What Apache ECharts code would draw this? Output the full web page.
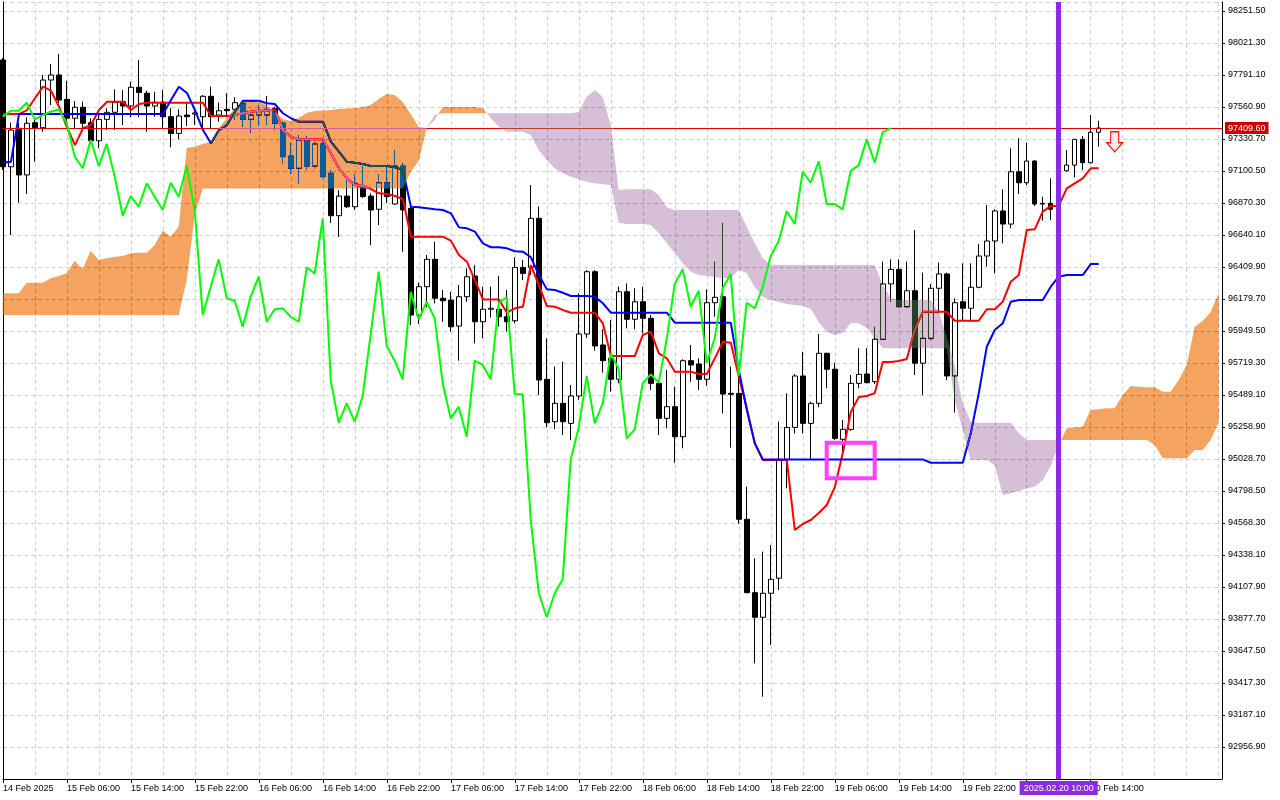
<!DOCTYPE html>
<html>
<head>
<meta charset="utf-8">
<script src="https://cdn.jsdelivr.net/npm/echarts@6.0.0/dist/echarts.min.js"></script>
<style>
html,body{margin:0;padding:0;background:#ffffff;}
#wrap{position:relative;width:1280px;height:800px;overflow:hidden;}
.layer{position:absolute;left:0;top:0;width:1280px;height:800px;}
#cloudLayer{mix-blend-mode:difference;pointer-events:none;}
#topLayer{pointer-events:none;}
</style>
</head>
<body>
<div id="wrap"><div id="mainLayer" class="layer"></div><div id="cloudLayer" class="layer"></div><div id="topLayer" class="layer"></div></div>
<script>
// ---------- DATA (hourly bars, bar 0 = 14 Feb 22:00) ----------
const xTickBars = [0, 8, 16, 24, 32, 40, 48, 56, 64, 72, 80, 88, 96, 104, 112, 120, 128, 136];
const xTickLabels = ['14 Feb 2025', '15 Feb 06:00', '15 Feb 14:00', '15 Feb 22:00', '16 Feb 06:00', '16 Feb 14:00',
  '16 Feb 22:00', '17 Feb 06:00', '17 Feb 14:00', '17 Feb 22:00', '18 Feb 06:00', '18 Feb 14:00',
  '18 Feb 22:00', '19 Feb 06:00', '19 Feb 14:00', '19 Feb 22:00', '20 Feb 06:00', '20 Feb 14:00'];

const candleOpen = [
  97899, 97131, 97408, 97072, 97448, 97412, 97755, 97791, 97616, 97480,
  97559, 97448, 97318, 97472, 97523, 97599, 97568, 97703, 97660, 97568,
  97595, 97491, 97371, 97503, 97510, 97491, 97638, 97503, 97544, 97544,
  97588, 97472, 97503, 97503, 97552, 97444, 97208, 97120, 97318, 97136,
  97295, 97084, 96779, 96920, 96843, 96992, 96920, 96825, 97016, 96863,
  97136, 96832, 96064, 96268, 96465, 96185, 96172, 95985, 96196, 96345,
  96016, 96106, 96106, 96052, 96023, 96407, 96407, 96760, 95602, 95297,
  95429, 95285, 95482, 95928, 96376, 95849, 95753, 95602, 96232, 96034,
  96160, 96041, 95573, 95321, 95405, 95189, 95736, 95712, 95602, 96153,
  96196, 95501, 95501, 94595, 94067, 93890, 94063, 94171, 95026, 95256,
  95626, 95285, 95429, 95789, 95674, 95170, 95242, 95573, 95640, 95585,
  95890, 96288, 96393, 96124, 96239, 95718, 95897, 96257, 96360, 95626,
  96160, 96113, 96264, 96489, 96597, 96813, 96719, 97095, 97016, 97172,
  96868, 96868, 96825, 97102, 97143, 97328, 97160, 97379
];
const candleClose = [
  97131, 97395, 97072, 97444, 97412, 97755, 97791, 97611, 97480, 97559,
  97444, 97318, 97472, 97523, 97595, 97568, 97703, 97665, 97568, 97595,
  97491, 97371, 97496, 97491, 97518, 97638, 97491, 97534, 97534, 97592,
  97472, 97503, 97527, 97544, 97444, 97204, 97120, 97323, 97136, 97295,
  97060, 96779, 96920, 96843, 97012, 96916, 96820, 97016, 96916, 97136,
  96820, 96064, 96268, 96465, 96185, 96167, 95980, 96196, 96340, 96016,
  96106, 96113, 96052, 96016, 96407, 96364, 96760, 95597, 95290, 95429,
  95297, 95482, 95928, 96376, 95842, 95736, 95602, 96232, 96034, 96160,
  96041, 95573, 95321, 95405, 95189, 95736, 95705, 95602, 96153, 96192,
  95496, 95494, 94595, 94067, 93890, 94063, 94163, 95026, 95256, 95626,
  95285, 95429, 95789, 95674, 95177, 95242, 95573, 95638, 95578, 95890,
  96288, 96393, 96124, 96239, 95718, 95897, 96257, 96360, 95626, 96153,
  96113, 96264, 96489, 96597, 96813, 96719, 97095, 97016, 97172, 96863,
  96863, 96825, 97102, 97143, 97328, 97160, 97379, 97409.6
];
const candleLow = [
  97108, 96640, 96872, 96935, 97167, 97383, 97575, 97588, 97444, 97408,
  97408, 97295, 97264, 97395, 97395, 97431, 97487, 97487, 97383, 97491,
  97408, 97271, 97328, 97424, 97431, 97415, 97408, 97455, 97491, 97467,
  97419, 97376, 97424, 97431, 97395, 97156, 97079, 97012, 97112, 97120,
  97055, 96727, 96626, 96834, 96820, 96906, 96568, 96712, 96868, 96856,
  96520, 95993, 96000, 96120, 96149, 96016, 95944, 95736, 96160, 95861,
  95897, 96047, 95980, 95944, 96004, 96316, 96352, 95489, 95256, 95242,
  95201, 95165, 95453, 95899, 95808, 95649, 95513, 95573, 95969, 95962,
  95933, 95525, 95201, 95249, 95002, 95106, 95585, 95525, 95554, 96052,
  95357, 95110, 94561, 94063, 93559, 93319, 93691, 94086, 94818, 95213,
  95213, 95026, 95401, 95537, 95165, 95072, 95232, 95537, 95573, 95568,
  95885, 96160, 96120, 96120, 95633, 95489, 95885, 96077, 95597, 95362,
  96029, 96016, 96257, 96412, 96364, 96580, 96688, 96935, 96999, 96849,
  96743, 96748, 96806, 97095, 97055, 97108, 97156, 97275
];
const candleHigh = [
  97913, 97448, 97448, 97487, 97467, 97791, 97870, 97942, 97750, 97604,
  97599, 97480, 97503, 97552, 97688, 97683, 97743, 97899, 97678, 97671,
  97683, 97552, 97545, 97588, 97539, 97647, 97707, 97592, 97660, 97631,
  97607, 97534, 97575, 97641, 97563, 97455, 97299, 97359, 97352, 97311,
  97311, 97108, 96964, 97036, 97079, 97136, 96940, 97079, 97127, 97247,
  97156, 96856, 96297, 96496, 96592, 96244, 96232, 96280, 96400, 96424,
  96268, 96268, 96345, 96244, 96479, 96460, 96999, 96844, 95897, 95693,
  95729, 95561, 96220, 96388, 96388, 95962, 96029, 96268, 96292, 96257,
  96268, 96065, 95585, 95669, 95549, 95746, 95849, 95753, 96249, 96448,
  96724, 95693, 95621, 94829, 94314, 94362, 94410, 95297, 95501, 95640,
  95800, 95441, 95928, 95793, 95721, 95309, 95633, 95825, 95825, 95980,
  96448, 96465, 96465, 96448, 96676, 96369, 96288, 96441, 96369, 96185,
  96436, 96436, 96575, 96856, 96825, 96969, 97264, 97336, 97304, 97180,
  96916, 97048, 97143, 97252, 97328, 97352, 97503, 97462
];

// Tenkan-sen (red)
const tenkan = [
  97510, 97510, 97510, 97539, 97624, 97707, 97678, 97563, 97415, 97287,
  97408, 97431, 97539, 97599, 97599, 97599, 97539, 97582, 97592, 97592,
  97592, 97592, 97592, 97592, 97592, 97592, 97496, 97496, 97496, 97503,
  97516, 97527, 97534, 97534, 97544, 97395, 97347, 97328, 97328, 97328,
  97328, 97228, 97120, 97050, 97000, 96993, 96971, 96940, 96935, 96921,
  96899, 96628, 96628, 96628, 96628, 96628, 96599, 96496, 96448, 96316,
  96177, 96177, 96177, 96081, 96113, 96124, 96424, 96280, 96129, 96124,
  96101, 96081, 96081, 96081, 96081, 96005, 95770, 95770, 95770, 95770,
  95921, 95945, 95789, 95753, 95657, 95657, 95657, 95640, 95640, 95753,
  95872, 95865, 95621, 95393, 95141, 95021, 95021, 95021, 95021, 94518,
  94561, 94590, 94640, 94698, 94827, 95072, 95367, 95474, 95482, 95503,
  95726, 95726, 95734, 95748, 95957, 96088, 96088, 96088, 96088, 96024,
  96024, 96024, 96024, 96106, 96106, 96160, 96304, 96352, 96676, 96681,
  96808, 96849, 96849, 96976, 97012, 97048, 97120, 97120
];
// Kijun-sen (blue)
const kijun = [
  97160, 97167, 97510, 97510, 97510, 97510, 97510, 97510, 97510, 97510,
  97510, 97510, 97510, 97510, 97510, 97510, 97510, 97510, 97510, 97510,
  97510, 97611, 97707, 97662, 97539, 97395, 97300, 97395, 97431, 97527,
  97606, 97606, 97606, 97588, 97582, 97516, 97480, 97455, 97455, 97455,
  97455, 97311, 97239, 97167, 97160, 97151, 97136, 97136, 97136, 97127,
  97108, 96844, 96839, 96832, 96825, 96820, 96796, 96695, 96688, 96664,
  96580, 96552, 96552, 96544, 96523, 96520, 96480, 96352, 96249, 96244,
  96225, 96201, 96201, 96201, 96196, 96149, 96081, 96081, 96081, 96081,
  96081, 96081, 96081, 96081, 96009, 96009, 96009, 96009, 96009, 96009,
  96009, 96009, 95669, 95381, 95141, 95026, 95026, 95026, 95026, 95026,
  95026, 95026, 95026, 95026, 95026, 95026, 95026, 95026, 95026, 95026,
  95026, 95026, 95026, 95026, 95026, 95026, 95002, 95002, 95002, 95002,
  95002, 95213, 95501, 95836, 95957, 96005, 96160, 96172, 96172, 96172,
  96172, 96268, 96340, 96352, 96352, 96352, 96431, 96431
];
// Chikou span (green), bars 0..111
const chikou = [
  97491, 97534, 97534, 97592, 97472, 97503, 97527, 97544, 97444, 97204,
  97120, 97323, 97136, 97295, 97060, 96779, 96920, 96843, 97012, 96916,
  96820, 97016, 96916, 97136, 96820, 96064, 96268, 96465, 96185, 96167,
  95980, 96196, 96340, 96016, 96106, 96113, 96052, 96016, 96407, 96364,
  96760, 95597, 95290, 95429, 95297, 95482, 95928, 96376, 95842, 95736,
  95602, 96232, 96034, 96160, 96041, 95573, 95321, 95405, 95189, 95736,
  95705, 95602, 96153, 96192, 95496, 95494, 94595, 94067, 93890, 94063,
  94163, 95026, 95256, 95626, 95285, 95429, 95789, 95674, 95177, 95242,
  95573, 95638, 95578, 95890, 96288, 96393, 96124, 96239, 95718, 95897,
  96257, 96360, 95626, 96153, 96113, 96264, 96489, 96597, 96813, 96719,
  97095, 97016, 97172, 96863, 96863, 96825, 97102, 97143, 97328, 97160,
  97379, 97409.6
];
// Senkou span A / B (cloud), bars 0..152
const spanA = [
  96221, 96221, 96221, 96297, 96297, 96297, 96329, 96345, 96365, 96455,
  96393, 96527, 96460, 96472, 96484, 96489, 96508, 96513, 96513, 96568,
  96671, 96628, 96700, 97266, 97275, 97295, 97311, 97408, 97480, 97552,
  97599, 97606, 97597, 97575, 97525, 97475, 97460, 97482, 97518, 97532,
  97536, 97539, 97547, 97550, 97554, 97561, 97575, 97619, 97655, 97647,
  97597, 97511, 97417, 97410, 97467, 97561, 97561, 97561, 97561, 97561,
  97552, 97482, 97419, 97383, 97383, 97383, 97359, 97252, 97180, 97120,
  97084, 97060, 97041, 97024, 97012, 97005, 97000, 96729, 96719, 96719,
  96719, 96712, 96654, 96583, 96511, 96439, 96376, 96352, 96345, 96338,
  96331, 96331, 96388, 96367, 96266, 96196, 96173, 96158, 96144, 96137,
  96129, 96108, 96014, 95942, 95921, 95935, 96005, 96005, 95971, 95899,
  95825, 95825, 95825, 95825, 95825, 95825, 95825, 95825, 95825, 95453,
  95237, 95021, 95021, 95021, 94985, 94770, 94782, 94798, 94818, 94829,
  94878, 94978, 95129, 95249, 95257, 95261, 95381, 95386, 95393, 95393,
  95489, 95554, 95549, 95545, 95545, 95513, 95513, 95597, 95705, 95980,
  96021, 96086, 96223
];
const spanB = [
  96065, 96065, 96065, 96065, 96065, 96065, 96065, 96065, 96065, 96065,
  96065, 96065, 96065, 96065, 96065, 96065, 96065, 96065, 96065, 96065,
  96065, 96065, 96065, 96316, 96784, 96975, 96975, 96975, 96975, 96975,
  96975, 96975, 96975, 96975, 96975, 96975, 96975, 96975, 96975, 96975,
  96975, 96975, 96975, 96975, 96975, 96975, 96975, 96975, 96975, 96975,
  96975, 97093, 97172, 97410, 97503, 97516, 97516, 97516, 97516, 97516,
  97516, 97516, 97516, 97516, 97516, 97516, 97516, 97516, 97516, 97516,
  97516, 97516, 97525, 97635, 97683, 97633, 97431, 96964, 96969, 96969,
  96969, 96969, 96928, 96839, 96820, 96820, 96820, 96820, 96820, 96820,
  96820, 96820, 96820, 96700, 96583, 96475, 96424, 96424, 96424, 96424,
  96424, 96424, 96424, 96424, 96424, 96424, 96424, 96424, 96424, 96424,
  96280, 96187, 96173, 96173, 96173, 96173, 96173, 96086, 95908, 95705,
  95432, 95297, 95290, 95290, 95290, 95290, 95290, 95216, 95165, 95165,
  95165, 95165, 95165, 95165, 95165, 95165, 95165, 95165, 95165, 95165,
  95165, 95165, 95165, 95165, 95129, 95034, 95034, 95034, 95034, 95093,
  95093, 95165, 95295
];
const bidPrice = 97409.6;
const markerBar = 132;              // 2025.02.20 10:00
const markerLabel = '2025.02.20 10:00';
const boxBars = [103, 109];         // highlighted zone
const boxPrices = [95145, 94890];
const arrowBar = 139, arrowPrice = 97311;

// ---------- LAYOUT ----------
const GRID = {left: 2.7, right: 58, top: 2, bottom: 21};
const X_MIN = 0, X_MAX = 152.4125;
const Y_MIN = 92726.7, Y_MAX = 98316.24, Y_STEP = 230.2;
const FONT = "'Liberation Sans', Arial, sans-serif";
const GRID_COLOR = '#d4d4d4';
// cloud colours are drawn inverted in a 'difference' layer (MT-style XOR look)
const CLOUD_UP_INV = 'rgb(11,91,159)';   // -> sandybrown on white
const CLOUD_DN_INV = 'rgb(39,64,39)';    // -> thistle on white

function pairs(arr) { return arr.map((v, i) => [i, v]); }
function xLabel(v) {
  const r = Math.round(v);
  const k = xTickBars.indexOf(r);
  return (k >= 0 && Math.abs(v - r) < 1e-6) ? xTickLabels[k] : '';
}
function hiddenBase() {
  return {
    animation: false,
    grid: Object.assign({}, GRID),
    xAxis: {type: 'value', min: X_MIN, max: X_MAX, show: false},
    yAxis: {type: 'value', min: Y_MIN, max: Y_MAX, show: false}
  };
}

// ---------- MAIN LAYER ----------
const candleData = candleOpen.map((o, i) => [i, o, candleClose[i], candleLow[i], candleHigh[i]]);
const chartMain = echarts.init(document.getElementById('mainLayer'));
chartMain.setOption({
  animation: false,
  backgroundColor: '#ffffff',
  grid: Object.assign({}, GRID),
  xAxis: [
    {type: 'value', min: X_MIN, max: X_MAX, interval: 8, position: 'bottom',
     axisLine: {show: true, onZero: false, lineStyle: {color: '#000', width: 1}},
     axisTick: {show: true, length: 4, lineStyle: {color: '#000', width: 1}, customValues: xTickBars},
     axisLabel: {show: true, customValues: xTickBars, align: 'left', margin: 5, color: '#000',
                 fontSize: 9, fontFamily: FONT, formatter: xLabel},
     splitLine: {show: false}},
    {type: 'value', min: X_MIN, max: X_MAX, interval: 4, position: 'top',
     axisLine: {show: false}, axisTick: {show: false}, axisLabel: {show: false},
     splitLine: {show: true, lineStyle: {color: GRID_COLOR, width: 1, type: [4, 3]}}}
  ],
  yAxis: [
    {type: 'value', position: 'right', min: Y_MIN, max: Y_MAX, interval: Y_STEP,
     axisLine: {show: true, onZero: false, lineStyle: {color: '#000', width: 1}},
     axisTick: {show: true, length: 3, lineStyle: {color: '#000'}},
     axisLabel: {margin: 6, color: '#000', fontSize: 9, fontFamily: FONT,
                 formatter: v => v.toFixed(2), showMinLabel: false, showMaxLabel: false},
     splitLine: {show: true, lineStyle: {color: GRID_COLOR, width: 1, type: [4, 3]}}},
    {type: 'value', position: 'left', min: Y_MIN, max: Y_MAX,
     axisLine: {show: true, onZero: false, lineStyle: {color: '#000', width: 1}},
     axisTick: {show: false}, axisLabel: {show: false}, splitLine: {show: false}}
  ],
  series: [
    {type: 'candlestick', name: 'BTCUSD', data: candleData, barWidth: 5, clip: false, silent: true,
     itemStyle: {color: '#ffffff', color0: '#000000', borderColor: '#000000', borderColor0: '#000000',
                 borderColorDoji: '#000000', borderWidth: 1},
     markLine: {silent: true, symbol: ['none', 'none'], animation: false,
       data: [{yAxis: bidPrice,
               lineStyle: {color: '#e00000', width: 1, type: 'solid'},
               label: {show: true, position: 'end', distance: 3, formatter: bidPrice.toFixed(2),
                       color: '#ffffff', backgroundColor: '#cc0000', padding: [2, 3, 1, 3],
                       fontSize: 9, fontFamily: FONT}}]}},
    {type: 'line', name: 'Tenkan-sen', data: pairs(tenkan), symbol: 'none', silent: true,
     lineStyle: {color: '#ff0000', width: 2}},
    {type: 'line', name: 'Kijun-sen', data: pairs(kijun), symbol: 'none', silent: true,
     lineStyle: {color: '#0000ff', width: 2}}
  ]
});

// ---------- CLOUD LAYER (difference blend) ----------
// one polygon per continuous run of the same sign (no seams between bars)
function sgn(d) { return d > 0 ? 1 : (d < 0 ? -1 : 0); }
function renderCloud(params, api) {
  const n = spanA.length;
  const PA = i => api.coord([i, spanA[i]]);
  const PB = i => api.coord([i, spanB[i]]);
  const runs = [];
  let cur = {s: sgn(spanA[0] - spanB[0]), A: [PA(0)], B: [PB(0)]};
  for (let i = 0; i < n - 1; i++) {
    const d0 = spanA[i] - spanB[i], d1 = spanA[i + 1] - spanB[i + 1];
    const s1 = sgn(d1);
    if (s1 !== 0 && cur.s !== 0 && s1 !== cur.s) {
      const t = (d0 === 0) ? 0 : d0 / (d0 - d1);
      const a0 = PA(i), a1 = PA(i + 1);
      const X = [a0[0] + (a1[0] - a0[0]) * t, a0[1] + (a1[1] - a0[1]) * t];
      cur.A.push(X); cur.B.push(X); runs.push(cur);
      cur = {s: s1, A: [X], B: [X]};
    } else if (cur.s === 0) {
      cur.s = s1;
    }
    cur.A.push(PA(i + 1)); cur.B.push(PB(i + 1));
  }
  runs.push(cur);
  const children = runs.map(r => ({
    type: 'polygon',
    shape: {points: r.A.concat(r.B.slice().reverse())},
    style: {fill: r.s >= 0 ? CLOUD_UP_INV : CLOUD_DN_INV}
  }));
  return {type: 'group', children: children};
}
const chartCloud = echarts.init(document.getElementById('cloudLayer'));
const cloudOpt = hiddenBase();
cloudOpt.series = [{type: 'custom', name: 'Kumo', renderItem: renderCloud, silent: true,
  data: [[0, spanA[0]]]}];
chartCloud.setOption(cloudOpt);

// ---------- TOP LAYER ----------
const chartTop = echarts.init(document.getElementById('topLayer'));
const topOpt = hiddenBase();
topOpt.series = [{
  type: 'line', name: 'Chikou span', data: pairs(chikou), symbol: 'none', silent: true,
  lineStyle: {color: '#00ff00', width: 2},
  markLine: {silent: true, symbol: ['none', 'none'], animation: false,
    data: [{xAxis: markerBar, lineStyle: {color: '#8a2be2', width: 5, type: 'solid'},
            label: {show: true, position: 'start', distance: 2, formatter: markerLabel,
                    color: '#ffffff', backgroundColor: '#8a2be2', padding: [3, 4, 2, 4],
                    fontSize: 9, fontFamily: FONT}}]},
  markArea: {silent: true,
    itemStyle: {color: 'rgba(0,0,0,0)', borderColor: '#ff40ff', borderWidth: 4},
    label: {show: false},
    data: [[{xAxis: boxBars[0], yAxis: boxPrices[0]}, {xAxis: boxBars[1], yAxis: boxPrices[1]}]]},
  markPoint: {silent: true, animation: false,
    data: [{coord: [arrowBar, arrowPrice],
            symbol: 'path://M4,0 L12,0 L12,11 L16,11 L8,20 L0,11 L4,11 Z',
            symbolSize: [16, 20], symbolOffset: [0, 0],
            itemStyle: {color: '#ffecec', borderColor: '#ff1010', borderWidth: 1.2},
            label: {show: false}}]}
}];
chartTop.setOption(topOpt);
</script>
</body>
</html>
